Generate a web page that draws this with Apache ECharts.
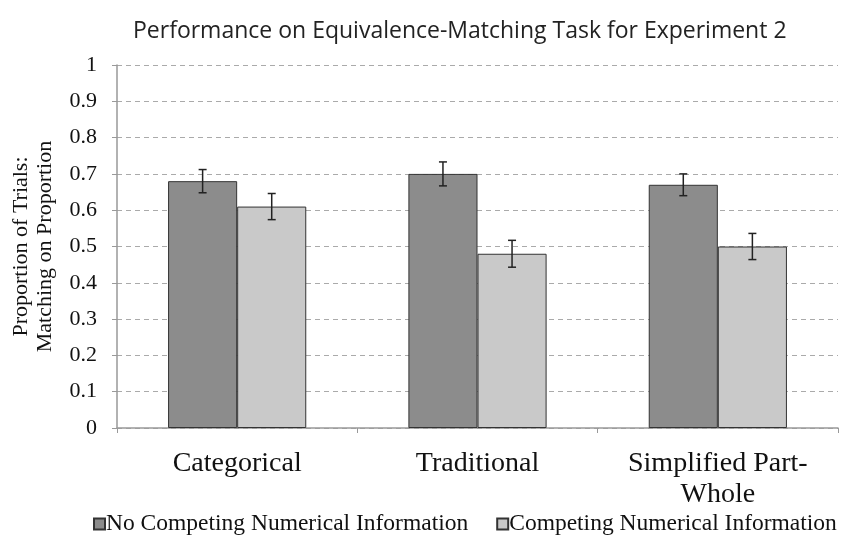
<!DOCTYPE html>
<html>
<head>
<meta charset="utf-8">
<script src="https://cdn.jsdelivr.net/npm/echarts@6/dist/echarts.min.js"></script>
<style>
  html, body { margin: 0; padding: 0; background: #fff; }
  #chart { width: 854px; height: 542px; }
</style>
</head>
<body>
<div id="chart"></div>
<script>
const categories = ['Categorical', 'Traditional', 'Simplified Part-\nWhole'];
const noCompeting = [0.68, 0.70, 0.67];
const noCompetingErr = [0.032, 0.033, 0.03];
const competing = [0.61, 0.48, 0.50];
const competingErr = [0.036, 0.037, 0.036];
const yTicks = [0, 0.1, 0.2, 0.3, 0.4, 0.5, 0.6, 0.7, 0.8, 0.9, 1];

const serif = '"Liberation Serif", "DejaVu Serif", serif';
const gapPct = 0.425;

// error bars drawn with a custom series, offset to sit on each bar
function errorSeries(values, errs, side) {
    return {
        type: 'custom',
        silent: true,
        z: 10,
        data: values.map((v, i) => [i, v, errs[i]]),
        renderItem: function (params, api) {
            const i = api.value(0);
            const band = api.size([1, 0])[0];
            const bw = band * (1 - gapPct) / 2;
            const hi = api.coord([i, api.value(1) + api.value(2)]);
            const lo = api.coord([i, api.value(1) - api.value(2)]);
            const x = hi[0] + side * bw / 2;
            const cap = 4;
            const style = { stroke: '#222', lineWidth: 1.5 };
            return {
                type: 'group',
                children: [
                    { type: 'line', shape: { x1: x, y1: hi[1], x2: x, y2: lo[1] }, style: style },
                    { type: 'line', shape: { x1: x - cap, y1: hi[1], x2: x + cap, y2: hi[1] }, style: style },
                    { type: 'line', shape: { x1: x - cap, y1: lo[1], x2: x + cap, y2: lo[1] }, style: style }
                ]
            };
        }
    };
}

const chart = echarts.init(document.getElementById('chart'));
chart.setOption({
    animation: false,
    backgroundColor: '#fff',
    title: {
        text: 'Performance on Equivalence-Matching Task for Experiment 2',
        left: 128,
        top: 15,
        textStyle: { fontFamily: '"Open Sans", Lato, sans-serif', fontSize: 23, fontWeight: 'normal', color: '#222' }
    },
    legend: {
        bottom: 6,
        left: 93,
        padding: 0,
        width: 761,
        itemWidth: 11,
        itemHeight: 11,
        itemGap: 28,
        icon: 'rect',
        textStyle: { fontFamily: serif, fontSize: 23.5, color: '#111', padding: [0, 0, 0, -4] },
        data: ['No Competing Numerical Information', 'Competing Numerical Information']
    },
    grid: { left: 117, right: 16, top: 65, bottom: 114, outerBoundsMode: 'none' },
    xAxis: {
        type: 'category',
        data: categories,
        axisLine: { lineStyle: { color: '#999', width: 1.5 } },
        axisTick: { show: true, length: 5, lineStyle: { color: '#999' } },
        axisLabel: { fontFamily: serif, fontSize: 28, color: '#111', margin: 20, lineHeight: 31 }
    },
    yAxis: {
        type: 'value',
        min: 0,
        max: 1,
        interval: 0.1,
        name: 'Proportion of Trials:\nMatching on Proportion',
        nameLocation: 'middle',
        nameGap: 60,
        nameRotate: 90,
        nameTextStyle: { fontFamily: serif, fontSize: 22, color: '#111', lineHeight: 24 },
        axisLine: { show: true, lineStyle: { color: '#999', width: 1.5 } },
        axisTick: { show: true, length: 5, lineStyle: { color: '#999' } },
        axisLabel: {
            fontFamily: serif, fontSize: 22, color: '#111', margin: 20,
            formatter: v => String(yTicks[Math.round(v * 10)])
        },
        splitLine: { lineStyle: { color: '#aaa', type: [5, 4], width: 1.2 } }
    },
    series: [
        {
            name: 'No Competing Numerical Information',
            type: 'bar',
            barGap: '0%',
            barCategoryGap: (gapPct * 100) + '%',
            itemStyle: { color: '#8c8c8c', borderColor: '#333', borderWidth: 1 },
            data: noCompeting
        },
        {
            name: 'Competing Numerical Information',
            type: 'bar',
            barGap: '0%',
            barCategoryGap: (gapPct * 100) + '%',
            itemStyle: { color: '#c9c9c9', borderColor: '#333', borderWidth: 1 },
            data: competing
        },
        errorSeries(noCompeting, noCompetingErr, -1),
        errorSeries(competing, competingErr, 1)
    ]
});
</script>
</body>
</html>
